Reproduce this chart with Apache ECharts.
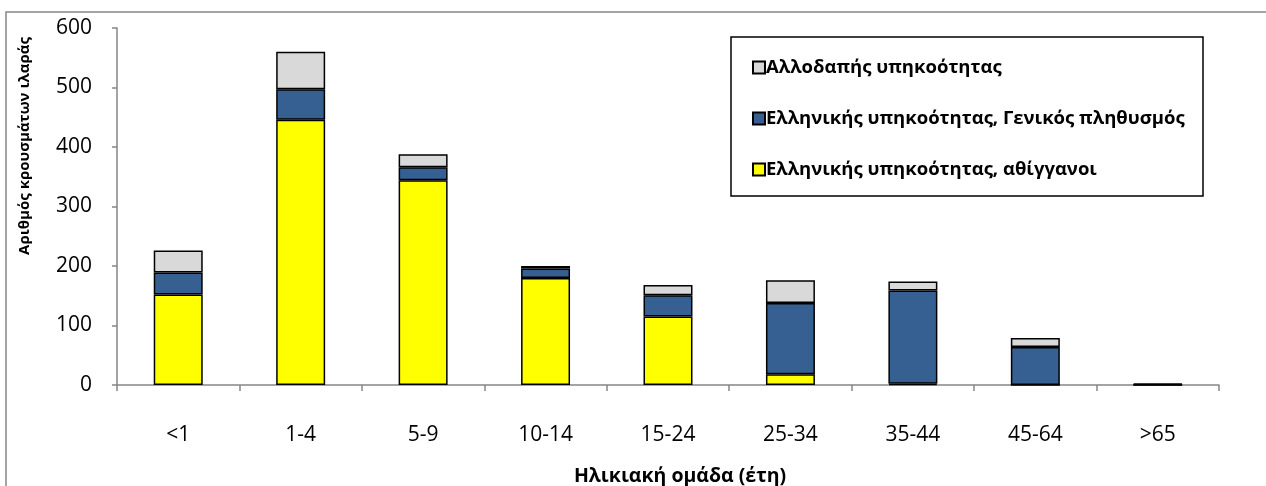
<!DOCTYPE html>
<html>
<head>
<meta charset="utf-8">
<script src="https://cdn.jsdelivr.net/npm/echarts@6/dist/echarts.min.js"></script>
<style>html,body{margin:0;padding:0;background:#fff;}#c{width:1266px;height:486px;}</style>
</head>
<body>
<div id="c"></div>
<script>
const categories = ['<1','1-4','5-9','10-14','15-24','25-34','35-44','45-64','>65'];
const roma = [152, 446, 344, 180, 115, 18, 2, 0, 0];
const greekGeneral = [37, 51, 22, 16, 36, 120, 157, 64, 1];
const foreign = [37, 63, 22, 4, 17, 38, 15, 15, 1];
const yTicks = [0, 100, 200, 300, 400, 500, 600];

const nameForeign = 'Αλλοδαπής υπηκοότητας';
const nameGeneral = 'Ελληνικής υπηκοότητας, Γενικός πληθυσμός';
const nameRoma = 'Ελληνικής υπηκοότητας, αθίγγανοι';

const FONT = '"Open Sans", "Noto Sans", sans-serif';
const chart = echarts.init(document.getElementById('c'), null, {renderer: 'canvas'});
const barStyle = (c) => ({color: c, borderColor: '#000', borderWidth: 1.5});
chart.setOption({
  animation: false,
  backgroundColor: '#fff',
  textStyle: {fontFamily: FONT},
  grid: {left: 117, right: 47, top: 28, bottom: 101, containLabel: false},
  legend: {
    orient: 'vertical', left: 747, top: 53, itemGap: 32,
    itemWidth: 12, itemHeight: 12, icon: 'rect',
    data: [nameForeign, nameGeneral, nameRoma],
    textStyle: {fontFamily: FONT, fontWeight: 'bold', fontSize: 18.5, color: '#000', padding: [0,0,0,-4]},
    selectedMode: false
  },
  xAxis: {
    type: 'category', data: categories,
    axisLine: {lineStyle: {color: '#868686', width: 1.5}},
    axisTick: {show: true, length: 6, lineStyle: {color: '#868686', width: 1.5}},
    axisLabel: {color: '#000', fontSize: 21, margin: 40, fontFamily: FONT},
    splitLine: {show: false}
  },
  yAxis: {
    type: 'value', min: yTicks[0], max: yTicks[yTicks.length-1], interval: 100,
    axisLine: {show: true, lineStyle: {color: '#868686', width: 1.5}},
    axisTick: {show: true, length: 5, lineStyle: {color: '#868686', width: 1.5}},
    axisLabel: {color: '#000', fontSize: 21, margin: 25, fontFamily: FONT},
    splitLine: {show: false}
  },
  series: [
    {name: nameRoma, type: 'bar', stack: 'a', data: roma, barWidth: '40%', itemStyle: barStyle('#FFFF00')},
    {name: nameGeneral, type: 'bar', stack: 'a', data: greekGeneral, barWidth: '40%', itemStyle: barStyle('#376092')},
    {name: nameForeign, type: 'bar', stack: 'a', data: foreign, barWidth: '40%', itemStyle: barStyle('#D9D9D9')}
  ],
  graphic: [
    {type: 'rect', shape: {x: 6, y: 12, width: 1300, height: 600}, style: {fill: 'none', stroke: '#868686', lineWidth: 1.5}, z: -10},
    {type: 'rect', shape: {x: 731, y: 37, width: 472, height: 159}, style: {fill: 'none', stroke: '#000', lineWidth: 1.5}, z: 10},
    {type: 'text', x: 25, y: 146, rotation: Math.PI/2, style: {text: 'Αριθμός κρουσμάτων ιλαράς', font: 'bold 15px ' + FONT, fill: '#000', textAlign: 'center', textVerticalAlign: 'middle'}},
    {type: 'text', x: 680, y: 476, style: {text: 'Ηλικιακή ομάδα (έτη)', font: 'bold 19.5px ' + FONT, fill: '#000', textAlign: 'center', textVerticalAlign: 'middle'}}
  ]
});
</script>
</body>
</html>
